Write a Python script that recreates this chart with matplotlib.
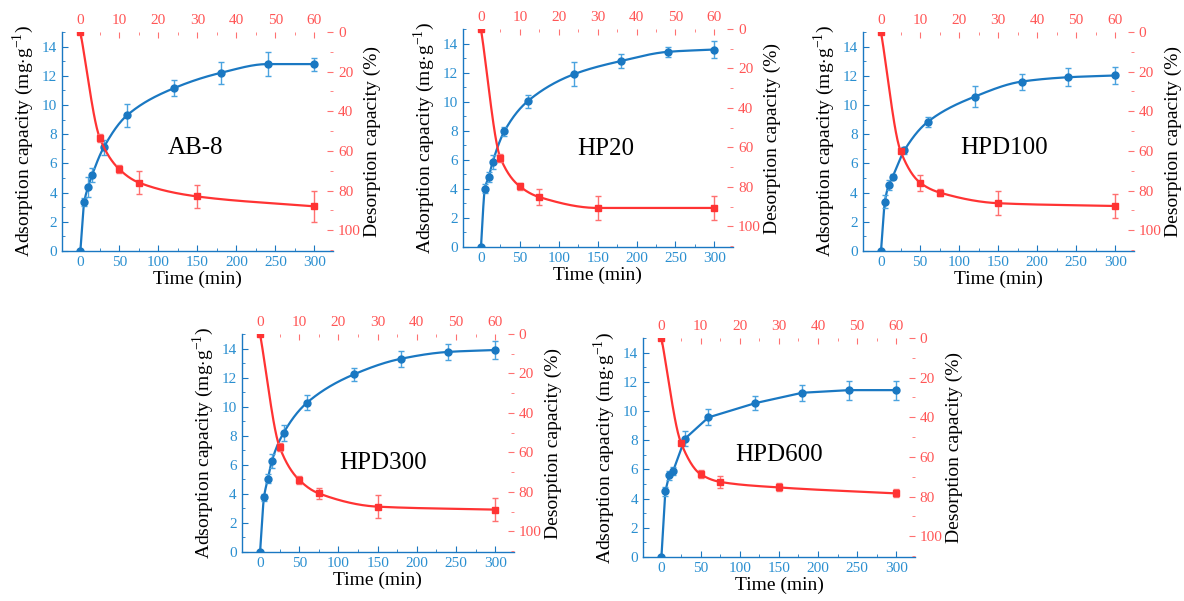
import numpy as np
import matplotlib
matplotlib.use("Agg")
import matplotlib.pyplot as plt
from matplotlib.ticker import MultipleLocator

plt.rcParams["font.family"] = ["Liberation Serif", "DejaVu Serif"]
plt.rcParams["mathtext.fontset"] = "custom"
plt.rcParams["mathtext.rm"] = "Liberation Serif"

BLUE = "#1a78c2"
BLUE_ERR = "#4aa3df"
BLUE_TXT = "#2a8fd0"
RED = "#ff3333"
RED_ERR = "#ff7070"
RED_TXT = "#ff5555"

# adsorption: time in min (bottom axis)
ads_time = [0, 5, 10, 15, 30, 60, 120, 180, 240, 300]
# desorption: time in min (top axis)
des_time = [0, 5, 10, 15, 30, 60]

names = ["AB-8", "HP20", "HPD100", "HPD300", "HPD600"]

ads_ab8 = [0, 3.35, 4.4, 5.2, 7.1, 9.3, 11.15, 12.2, 12.8, 12.8]
ads_ab8_err = [0, 0.3, 0.7, 0.45, 0.5, 0.8, 0.55, 0.75, 0.8, 0.45]
des_ab8 = [0, 53.6, 69.3, 76.0, 83.0, 88.0]
des_ab8_err = [0, 2, 2, 6, 6, 8]

ads_hp20 = [0, 4.02, 4.82, 5.85, 7.96, 10.03, 11.9, 12.8, 13.43, 13.59]
ads_hp20_err = [0, 0.3, 0.35, 0.5, 0.3, 0.45, 0.8, 0.45, 0.35, 0.6]
des_hp20 = [0, 65.4, 79.8, 85.2, 90.7, 90.7]
des_hp20_err = [0, 2, 2, 4, 6, 6]

ads_hpd100 = [0, 3.38, 4.53, 5.1, 6.9, 8.85, 10.57, 11.6, 11.9, 12.02]
ads_hpd100_err = [0, 0.45, 0.35, 0.2, 0.25, 0.35, 0.7, 0.55, 0.6, 0.55]
des_hpd100 = [0, 60.0, 76.0, 81.0, 86.4, 87.8]
des_hpd100_err = [0, 1, 4, 2, 6, 6]

ads_hpd300 = [0, 3.76, 5.04, 6.26, 8.2, 10.28, 12.23, 13.3, 13.77, 13.9]
ads_hpd300_err = [0, 0.25, 0.3, 0.5, 0.55, 0.5, 0.45, 0.55, 0.55, 0.6]
des_hpd300 = [0, 57.4, 74.0, 80.8, 87.5, 89.0]
des_hpd300_err = [0, 2, 2, 3, 6, 6]

ads_hpd600 = [0, 4.5, 5.6, 5.9, 8.1, 9.56, 10.54, 11.25, 11.43, 11.43]
ads_hpd600_err = [0, 0.3, 0.3, 0.25, 0.5, 0.55, 0.5, 0.55, 0.65, 0.65]
des_hpd600 = [0, 52.9, 68.7, 72.6, 75.4, 78.4]
des_hpd600_err = [0, 1, 2, 3, 2, 2]

ads_all = [ads_ab8, ads_hp20, ads_hpd100, ads_hpd300, ads_hpd600]
ads_err_all = [ads_ab8_err, ads_hp20_err, ads_hpd100_err, ads_hpd300_err, ads_hpd600_err]
des_all = [des_ab8, des_hp20, des_hpd100, des_hpd300, des_hpd600]
des_err_all = [des_ab8_err, des_hp20_err, des_hpd100_err, des_hpd300_err, des_hpd600_err]
smooth_ads = [True, True, True, True, False]

# panel boxes [left, bottom, width, height] in figure fraction
boxes = [
    [0.0524, 0.5824, 0.2289, 0.3644],
    [0.3908, 0.5890, 0.2283, 0.3627],
    [0.7286, 0.5824, 0.2291, 0.3644],
    [0.2041, 0.0815, 0.2300, 0.3627],
    [0.5431, 0.0732, 0.2297, 0.3644],
]
label_pos = [(147, 7.06), (160, 6.77), (158, 7.06), (157, 6.1), (150, 7.0)]


def pchip(x, y, n=300):
    # monotone cubic (Fritsch-Carlson) for the smooth connecting line
    x = np.asarray(x, float)
    y = np.asarray(y, float)
    h = np.diff(x)
    d = np.diff(y) / h
    m = np.zeros_like(y)
    m[0], m[-1] = d[0], d[-1]
    for k in range(1, len(x) - 1):
        if d[k - 1] * d[k] <= 0:
            m[k] = 0
        else:
            w1 = 2 * h[k] + h[k - 1]
            w2 = h[k] + 2 * h[k - 1]
            m[k] = (w1 + w2) / (w1 / d[k - 1] + w2 / d[k])
    xs = np.linspace(x[0], x[-1], n)
    idx = np.clip(np.searchsorted(x, xs) - 1, 0, len(x) - 2)
    t = (xs - x[idx]) / h[idx]
    h00 = 2 * t**3 - 3 * t**2 + 1
    h10 = t**3 - 2 * t**2 + t
    h01 = -2 * t**3 + 3 * t**2
    h11 = t**3 - t**2
    ys = h00 * y[idx] + h10 * h[idx] * m[idx] + h01 * y[idx + 1] + h11 * h[idx] * m[idx + 1]
    return xs, ys


fig = plt.figure(figsize=(11.84, 6.01), dpi=100)

for i, name in enumerate(names):
    ax = fig.add_axes(boxes[i])
    ax2 = fig.add_axes(boxes[i], frameon=False)

    # adsorption (blue, bottom/left)
    if smooth_ads[i]:
        xs, ys = pchip(ads_time, ads_all[i])
        ax.plot(xs, ys, color=BLUE, lw=1.6, zorder=3)
    else:
        ax.plot(ads_time, ads_all[i], color=BLUE, lw=1.6, zorder=3)
    ax.errorbar(ads_time, ads_all[i], yerr=ads_err_all[i], fmt="o", ms=5,
                color=BLUE, ecolor=BLUE_ERR, elinewidth=1, capsize=2.5, zorder=4)
    ax.set_xlim(-23.5, 324)
    ax.xaxis.set_major_locator(MultipleLocator(50))
    ax.xaxis.set_minor_locator(MultipleLocator(25))
    ax.yaxis.set_major_locator(MultipleLocator(2))
    ax.yaxis.set_minor_locator(MultipleLocator(1))
    ax.set_ylim(0, 15)
    for s in ["top", "right"]:
        ax.spines[s].set_visible(False)
    for s in ["left", "bottom"]:
        ax.spines[s].set_color(BLUE)
        ax.spines[s].set_linewidth(1.0)
    ax.tick_params(which="both", direction="in", colors=BLUE, labelcolor=BLUE_TXT,
                   labelsize=11)
    ax.tick_params(which="major", length=4)
    ax.tick_params(which="minor", length=2)
    ax.set_xlabel("Time (min)", fontsize=14, labelpad=1)
    ax.set_ylabel(r"Adsorption capacity (mg$\cdot$g$^{-1}$)", fontsize=14, labelpad=4)
    ax.text(label_pos[i][0], label_pos[i][1], name, fontsize=18,
            ha="center", va="center", zorder=5)

    # desorption (red, top/right)
    xs, ys = pchip(des_time, des_all[i])
    ax2.plot(xs, ys, color=RED, lw=1.6, zorder=3)
    ax2.errorbar(des_time, des_all[i], yerr=des_err_all[i], fmt="s", ms=4.5,
                 color=RED, ecolor=RED_ERR, elinewidth=1, capsize=2.5, zorder=4)
    ax2.set_xlim(-4.7, 64.8)
    ax2.set_ylim(110.5, 0)
    ax2.xaxis.tick_top()
    ax2.yaxis.tick_right()
    ax2.yaxis.set_label_position("right")
    ax2.xaxis.set_major_locator(MultipleLocator(10))
    ax2.xaxis.set_minor_locator(MultipleLocator(5))
    ax2.yaxis.set_major_locator(MultipleLocator(20))
    ax2.yaxis.set_minor_locator(MultipleLocator(10))
    ax2.set_yticks([0, 20, 40, 60, 80, 100])
    for s in ["top", "right"]:
        ax2.spines[s].set_visible(True)
        ax2.spines[s].set_color(RED_ERR)
        ax2.spines[s].set_linewidth(1.0)
    for s in ["left", "bottom"]:
        ax2.spines[s].set_visible(False)
    ax2.tick_params(which="both", direction="in", colors=RED_ERR, labelcolor=RED_TXT,
                    labelsize=11)
    ax2.tick_params(which="major", length=4)
    ax2.tick_params(which="minor", length=2)
    ax2.set_ylabel("Desorption capacity (%)", fontsize=14, labelpad=2)
    ax2.patch.set_visible(False)

fig.savefig("out.png", dpi=100)
